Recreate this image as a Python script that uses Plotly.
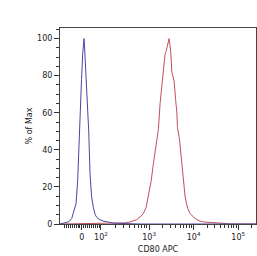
import plotly.graph_objects as go
import numpy as np

# x positions in display units (decades on the biexponential axis; 10^3 -> 3)
blue_x = [1.0, 1.045, 1.112, 1.20, 1.263, 1.36, 1.398, 1.427, 1.449, 1.483, 1.51, 1.524, 1.539,
          1.55, 1.562, 1.584, 1.613, 1.636, 1.645, 1.674, 1.708, 1.748, 1.79, 1.825, 1.88,
          1.966, 2.079, 2.191, 2.348, 2.573, 2.8, 5.4]
blue_y = [0, 0.3, 0.5, 1.2, 3, 11, 24, 45, 60, 78, 92, 97, 100,
          96, 90, 80, 72, 60, 50, 27, 15, 9, 5, 3.6, 2.5,
          1.6, 1.0, 0.5, 0.3, 0.1, 0, 0]

red_x = [1.0, 2.2, 2.348, 2.461, 2.573, 2.724, 2.798, 2.872, 2.933, 2.984, 3.045, 3.097, 3.157,
         3.209, 3.247, 3.308, 3.36, 3.382, 3.416, 3.449, 3.472, 3.488, 3.51, 3.539, 3.562,
         3.596, 3.624, 3.637, 3.681, 3.735, 3.771, 3.809, 3.865, 3.921, 4.034, 4.146, 4.22,
         4.371, 4.596, 4.708, 4.82, 5.4]
red_y = [0, 0.2, 0.5, 0.6, 1.1, 2.4, 3.8, 5.6, 9, 14.6, 23, 32.7, 43,
         51, 65, 81, 92, 93, 97, 100, 96, 92, 82, 79, 77,
         67, 60, 52, 46, 32.7, 23, 14.6, 8.5, 5.6, 2.9, 1.5, 1.1,
         0.9, 0.8, 0.3, 0, 0]

major_pos = [1.49, 1.92, 3, 4, 5]
major_text = ["0", "10<sup>2</sup>", "10<sup>3</sup>", "10<sup>4</sup>", "10<sup>5</sup>"]

# minor tick positions
minor = []
step = (1.92 - 1.49) / 10
for k in range(1, 10):
    minor.append(1.49 - k * step)
    minor.append(1.49 + k * step)
for m in range(2, 10):
    minor.append(1.92 + np.log10(m) * (3 - 1.92))
    for d in (3, 4, 5):
        p = d + np.log10(m)
        if p < 5.4:
            minor.append(p)

fig = go.Figure()
fig.add_trace(go.Scatter(x=red_x, y=red_y, mode="lines",
                         line=dict(color="#c0505e", width=1), showlegend=False))
fig.add_trace(go.Scatter(x=blue_x, y=blue_y, mode="lines",
                         line=dict(color="#4a46a0", width=1), showlegend=False))

font = dict(family="DejaVu Sans", size=8, color="#222")
fig.update_layout(
    width=257, height=256,
    margin=dict(l=60, r=1, t=28, b=32),
    paper_bgcolor="white", plot_bgcolor="white",
    font=font,
    xaxis=dict(range=[1.0, 5.4], tickmode="array", tickvals=major_pos, ticktext=major_text,
               ticks="outside", ticklen=5, tickwidth=1, tickcolor="#333",
               showline=True, linecolor="#444", linewidth=1, mirror=True,
               showgrid=False, zeroline=False,
               minor=dict(tickmode="array", tickvals=minor, ticks="outside", ticklen=3,
                          tickcolor="#333", showgrid=False),
               title=dict(text="CD80 APC", font=font, standoff=5)),
    yaxis=dict(range=[0, 105.7], tickmode="array", tickvals=[0, 20, 40, 60, 80, 100],
               ticks="outside", ticklen=5, tickwidth=1, tickcolor="#333",
               showline=True, linecolor="#444", linewidth=1, mirror=True,
               showgrid=False, zeroline=False,
               minor=dict(dtick=5, ticks="outside", ticklen=3, tickcolor="#333", showgrid=False),
               title=dict(text="% of Max", font=font, standoff=3)),
)
fig.write_html("out.html")
